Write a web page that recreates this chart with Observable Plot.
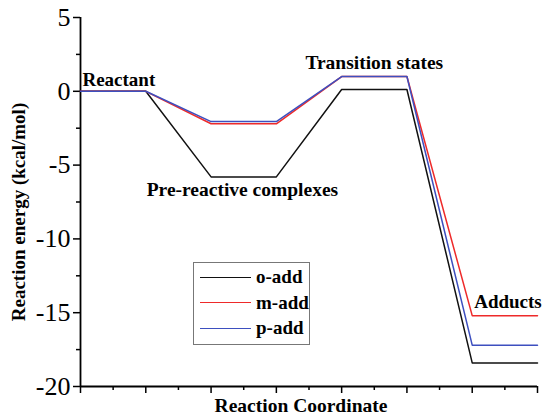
<!DOCTYPE html>
<html>
<head>
<meta charset="utf-8">
<script src="https://cdn.jsdelivr.net/npm/d3@7"></script>
<script src="https://cdn.jsdelivr.net/npm/@observablehq/plot@0.6"></script>
<style>
  body { margin: 0; background: #fff; }
  #wrap { position: relative; width: 543px; height: 416px; font-family: 'Liberation Serif', 'DejaVu Serif', serif; }
  #wrap svg, #wrap svg text { font-family: 'Liberation Serif', 'DejaVu Serif', serif !important; }
  #legend { position: absolute; left: 193px; top: 262px; width: 117px; height: 83px; border: 1px solid #777; background: #fff; box-sizing: border-box; }
  .item { position: absolute; left: 6px; height: 20px; display: flex; align-items: center; font-weight: bold; font-size: 19px; white-space: nowrap; }
  .item span.sw { display: inline-block; width: 51px; height: 0; border-top: 1.6px solid; margin-right: 5px; }
</style>
</head>
<body>
<div id="wrap"></div>
<script>
// stage order along the reaction coordinate
const stages = ["Reactant", "Pre-reactive complexes", "Transition states", "Adducts"];
// energies (kcal/mol) per stage
const oAdd = [0, -5.8, 0.12, -18.4];
const mAdd = [0, -2.2, 1.0, -15.2];
const pAdd = [0, -2.05, 1.0, -17.2];
const seriesNames = ["o-add", "m-add", "p-add"];
const seriesColors = ["#111111", "#ee2a2a", "#3d4fbf"];
const yTicks = [-20, -15, -10, -5, 0, 5];
const yMinor = [-17.5, -12.5, -7.5, -2.5, 2.5];
const xTicks = [0, 1, 2, 3, 4, 5, 6, 7];
const xMinor = [0.5, 1.5, 2.5, 3.5, 4.5, 5.5, 6.5];
// stage labels placed in data units
const labelX = [0.03, 2.48, 4.5, 6.03];
const labelY = [0.75, -6.7, 1.95, -14.3];
const labelAnchor = ["start", "middle", "middle", "start"];

const seriesVals = [oAdd, mAdd, pAdd];
const rows = [];
seriesVals.forEach((vals, si) => {
  vals.forEach((v, k) => {
    rows.push({series: seriesNames[si], x: 2 * k, y: v});
    rows.push({series: seriesNames[si], x: 2 * k + 1, y: v});
  });
});
const labels = stages.map((s, i) => ({text: s, x: labelX[i], y: labelY[i], anchor: labelAnchor[i]}));
const ff = "'Liberation Serif', 'DejaVu Serif', serif";

const plot = Plot.plot({
  width: 543,
  height: 416,
  marginLeft: 80,
  marginRight: 6,
  marginTop: 17,
  marginBottom: 30,
  style: {fontFamily: ff, background: "white", color: "black"},
  x: {domain: [0, 7]},
  y: {domain: [-20, 5]},
  color: {domain: seriesNames, range: seriesColors},
  marks: [
    Plot.axisY({ticks: yTicks, tickSize: 7, text: null, label: null, strokeWidth: 1.5}),
    Plot.text(yTicks, {y: d => d, frameAnchor: "left", textAnchor: "end", lineAnchor: "middle", dx: -10, fontSize: 26, fontFamily: ff, text: d => d < 0 ? "-" + Math.abs(d) : String(d)}),
    Plot.axisY({ticks: yMinor, tickSize: 4, text: null, label: null, strokeWidth: 1.5}),
    Plot.axisX({ticks: xTicks, tickSize: 7, text: null, label: null, strokeWidth: 1.5}),
    Plot.axisX({ticks: xMinor, tickSize: 4, text: null, label: null, strokeWidth: 1.5}),
    Plot.ruleX([0], {strokeWidth: 1.8}),
    Plot.ruleY([-20], {strokeWidth: 1.8}),
    Plot.line(rows, {x: "x", y: "y", z: "series", stroke: "series", strokeWidth: 1.5}),
    Plot.text(labels.filter(d => d.anchor === "start"), {x: "x", y: "y", text: "text", textAnchor: "start", fontWeight: "bold", fontSize: 19, fontFamily: ff}),
    Plot.text(labels.filter(d => d.anchor === "middle"), {x: "x", y: "y", text: "text", textAnchor: "middle", fontWeight: "bold", fontSize: 19.5, fontFamily: ff}),
    Plot.text(["Reaction energy (kcal/mol)"], {frameAnchor: "left", textAnchor: "middle", lineAnchor: "middle", rotate: -90, dx: -62, dy: 10, fontWeight: "bold", fontSize: 19, fontFamily: ff}),
    Plot.text(["Reaction Coordinate"], {frameAnchor: "bottom", textAnchor: "middle", lineAnchor: "middle", dy: 19, dx: -8, fontWeight: "bold", fontSize: 19.5, fontFamily: ff})
  ]
});
const wrap = document.getElementById("wrap");
wrap.appendChild(plot);

const legend = document.createElement("div");
legend.id = "legend";
seriesNames.forEach((n, i) => {
  const it = document.createElement("div");
  it.className = "item";
  it.style.top = (4 + i * 25.5) + "px";
  const sw = document.createElement("span");
  sw.className = "sw";
  sw.style.borderTopColor = seriesColors[i];
  it.appendChild(sw);
  it.appendChild(document.createTextNode(n));
  legend.appendChild(it);
});
wrap.appendChild(legend);
</script>
</body>
</html>
